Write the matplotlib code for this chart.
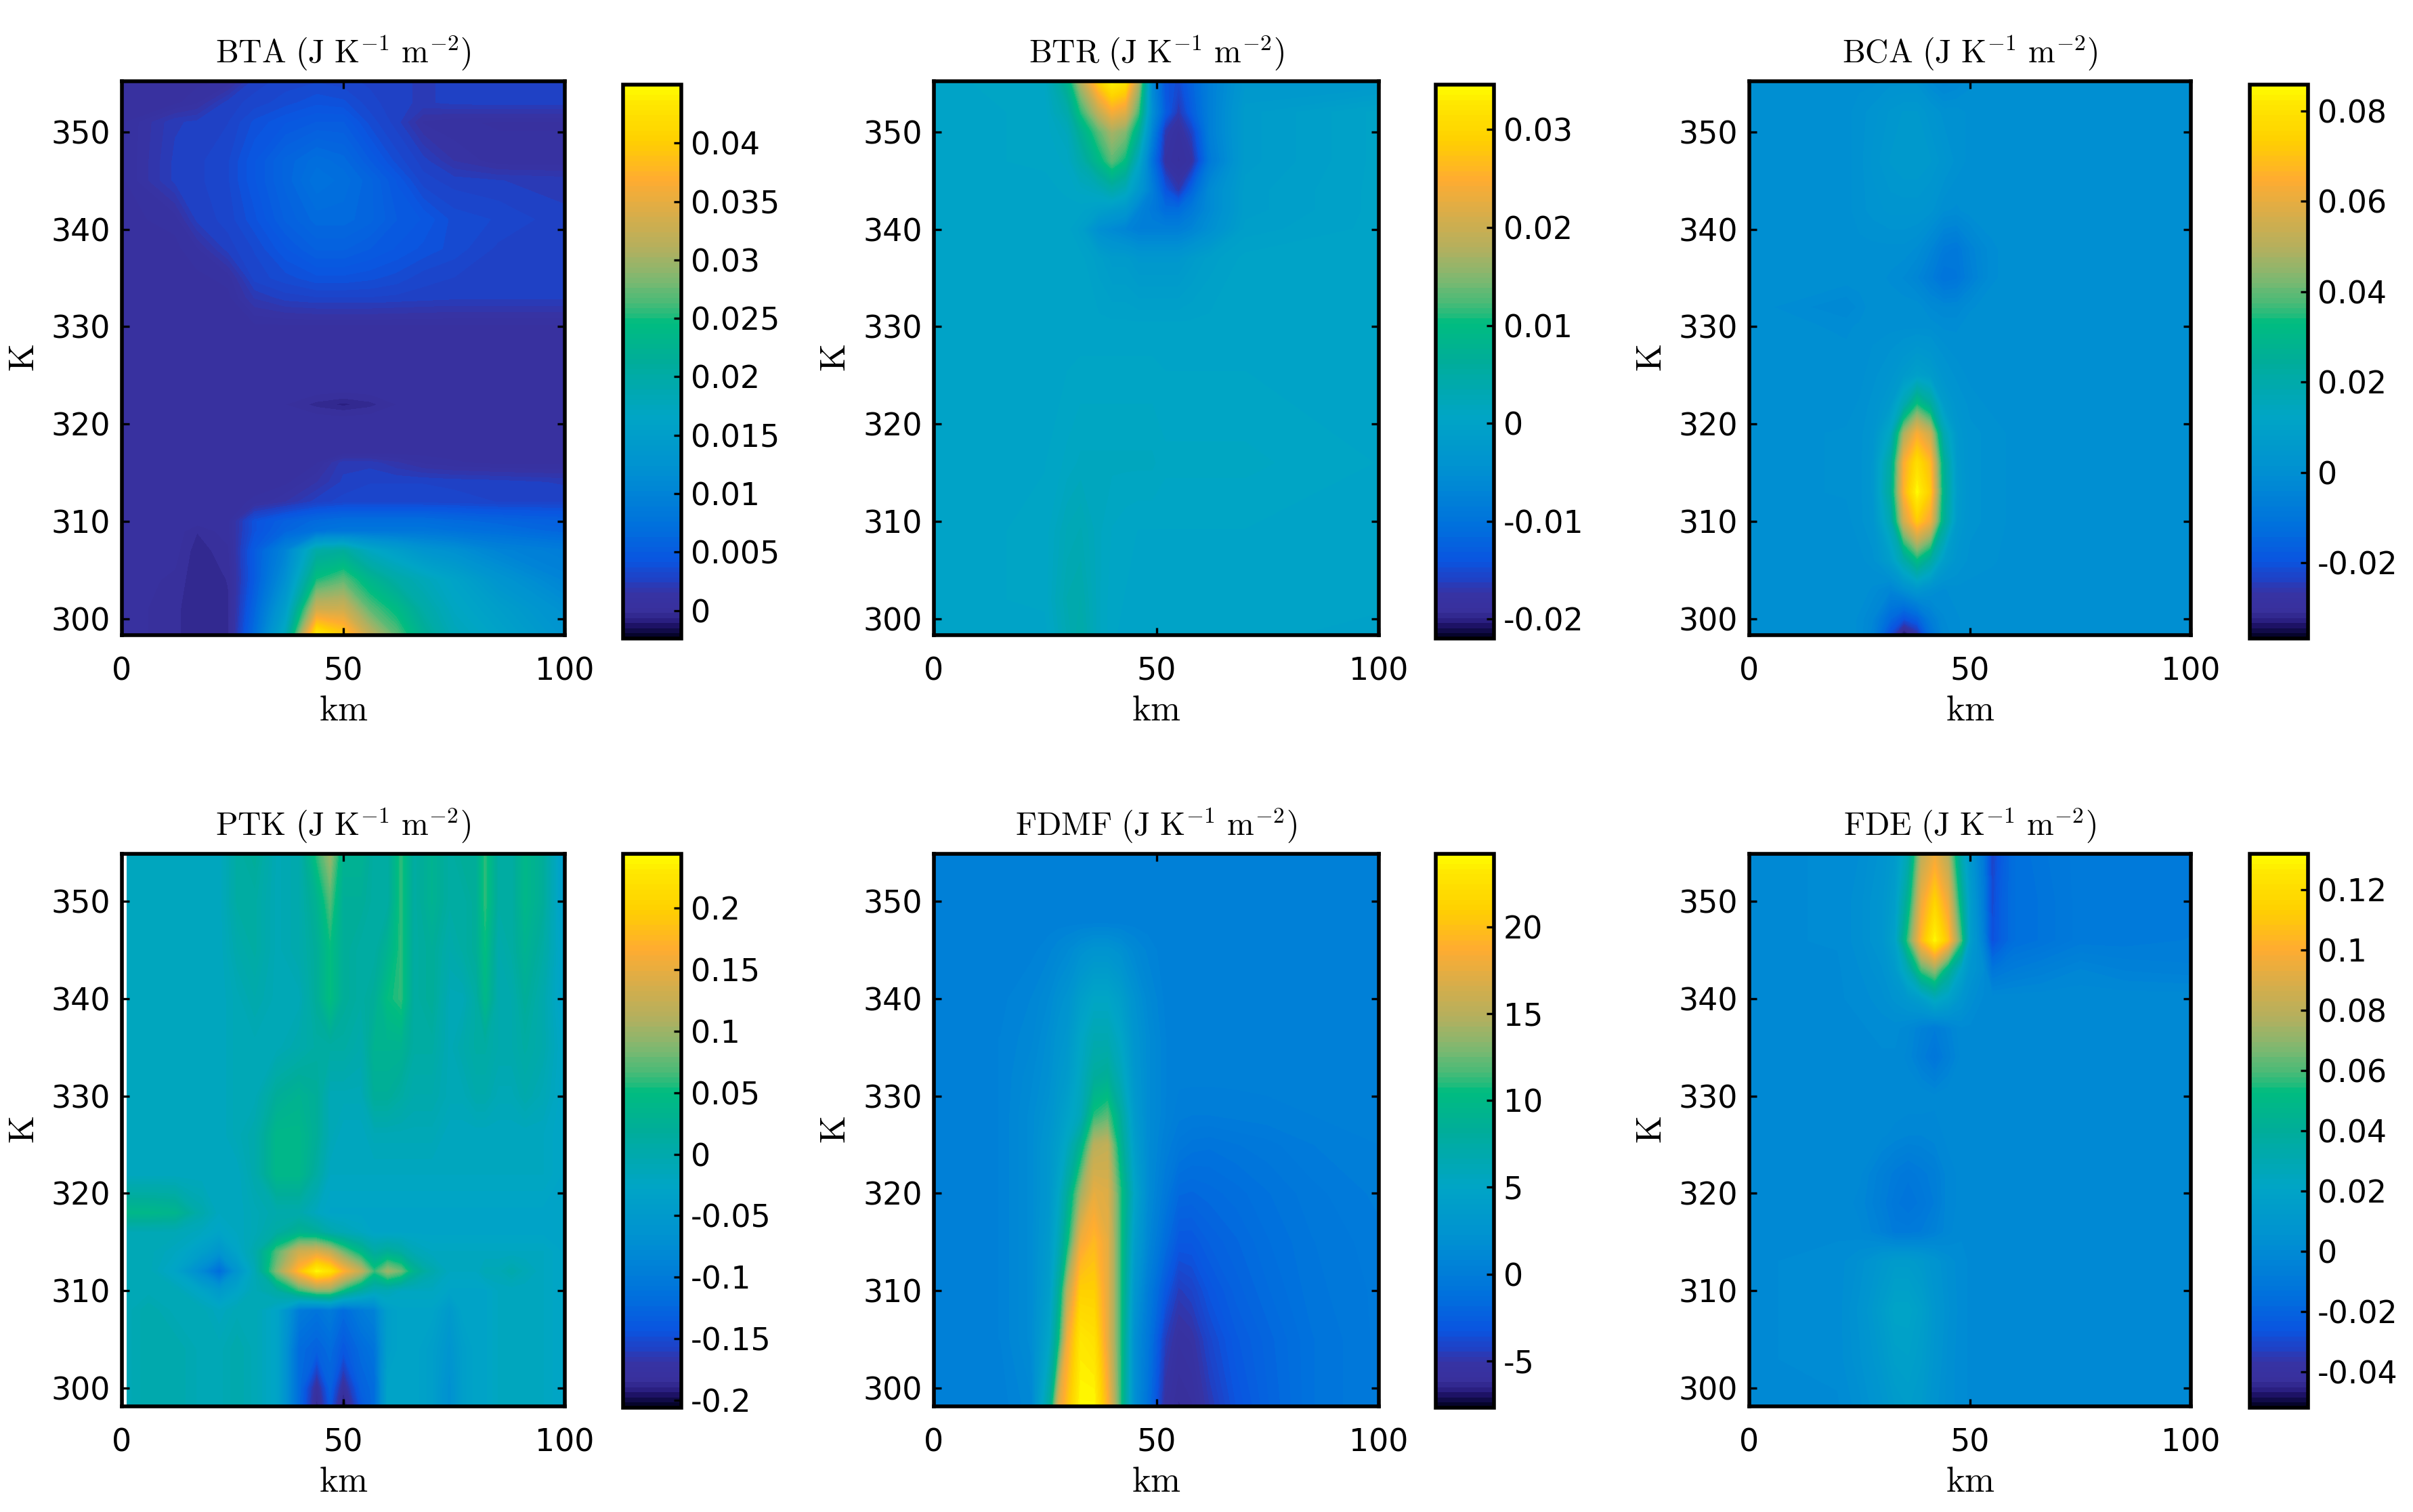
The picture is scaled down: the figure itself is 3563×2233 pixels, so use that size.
import numpy as np
import matplotlib
matplotlib.use("Agg")
import matplotlib.pyplot as plt
from matplotlib.colors import LinearSegmentedColormap

W, H = 3563, 2233
DPI = 200

# ---- BTA (x 1e-3) ----
bta_x = [0, 12, 17, 24, 30, 37, 44, 50, 56, 62, 68, 75, 85, 100]
bta_k = [298.3, 301, 304, 307, 309, 310, 312, 314, 316, 317, 320, 321, 322, 323, 324, 330, 333, 335, 338, 341, 345, 347, 351, 353, 355.2]
bta_z = [
    [.5, -.1, -.6, -.3, 7, 18, 44, 40, 32, 27, 22, 18, 16, 13],
    [.5, -.1, -.6, -.3, 6, 15, 33, 33, 27, 24, 20, 17, 15, 12],
    [.5, .1, -.6, -.2, 5, 12, 25, 27, 23, 20, 18, 16, 13, 10],
    [.5, .4, -.5, .1, 5, 10, 20, 21, 17, 15, 13, 12, 10, 9],
    [.5, .5, -.2, .5, 4, 6, 7.5, 8, 8, 8, 8, 7.5, 7, 6],
    [.5, .5, .5, .5, 4, 5.5, 6.5, 7, 7, 7, 7, 6.5, 6, 5.5],
    [.5, .5, .5, .5, .7, 1.5, 2.6, 3, 3, 3, 3, 3, 2.8, 2.8],
    [.5, .5, .5, .5, .5, .5, 1.5, 2.5, 2.8, 2.8, 2.8, 2.7, 2.6, 2.3],
    [.5, .5, .5, .5, .5, .5, .6, 2.2, 2.2, 1.6, 1, .7, .5, .5],
    [.5, .5, .5, .5, .5, .5, .5, .5, .5, .5, .5, .5, .5, .5],
    [.5, .5, .5, .5, .5, .5, .5, .5, .5, .5, .5, .5, .5, .5],
    [.5, .5, .5, .5, .5, .5, .2, .1, .2, .5, .5, .5, .5, .5],
    [.5, .5, .5, .5, .5, .2, -.4, -.8, -.4, .2, .5, .5, .5, .5],
    [.5, .5, .5, .5, .5, .5, .2, .1, .2, .5, .5, .5, .5, .5],
    [.5, .5, .5, .5, .5, .5, .5, .5, .5, .5, .5, .5, .5, .5],
    [.5, .5, .5, .5, .5, .5, .5, .5, .5, .5, .5, .5, .5, .5],
    [.5, .5, .5, .5, 2, 2.6, 2.8, 2.8, 2.8, 2.7, 2.6, 2.5, 2.5, 2.5],
    [.5, .5, .5, .8, 3, 3.5, 4, 4, 3.8, 3.5, 3, 2.8, 2.6, 2.5],
    [.5, .5, 1, 2.6, 3.3, 4.5, 5.5, 5.5, 5, 4.5, 4, 3.5, 2.7, 2.5],
    [.5, .8, 2.5, 3, 4, 5.5, 6.5, 6.5, 6, 5, 4.5, 3.5, 3.2, 2.5],
    [.5, 2.5, 2.7, 3.2, 4.5, 6, 7.5, 7, 6, 4.5, 3, 2.6, 2.4, 2.2],
    [.5, 2.5, 2.7, 3.2, 4.5, 6, 7, 6.5, 5, 3.5, 2.6, 1.5, .8, .8],
    [.5, 2.3, 2.5, 2.8, 3.8, 4.5, 5, 5, 3.5, 2.6, 1, .7, .6, .6],
    [.5, .5, 1, 2.6, 3, 3.5, 4, 3.8, 3, 2.5, 2.3, 2.5, 2.6, 2.6],
    [.5, .5, .5, .7, 2.6, 3, 3.2, 3, 2.7, 2.5, 2.3, 2.5, 2.6, 2.6],
]

# ---- BTR (x 1e-3) ----
btr_x = [0, 25, 30, 33, 37, 40, 43, 46, 49, 52, 55, 58, 62, 70, 100]
btr_k = [298.3, 302, 309, 316, 330, 337, 340, 342, 344, 347, 350, 352, 355.2]
btr_z = [
    [0, 0, 3, 4.5, 1.5, .5, 0, 0, 0, 0, 0, 0, 0, 0, -.5],
    [0, .5, 3.5, 4, 1.5, .5, .3, 0, 0, 0, 0, 0, 0, 0, 0],
    [0, .5, 2.5, 3, 1.5, .8, .5, .3, .3, .3, .3, .3, .3, .3, 0],
    [0, .3, 1, 1.5, 1.5, 1.5, 1.5, 1.5, 1.5, 1, 1, 1, 1, 1, .3],
    [0, 0, 0, 0, 0, 0, 0, 0, 0, 0, 0, 0, 0, 0, .2],
    [0, 0, 0, 0, -1, -2, -2, -3, -3, -3, -3, -2, -1, 0, 0],
    [0, 0, 0, -1, -5, -6, -7, -8, -8, -8, -8, -7, -5, -1, 0],
    [0, 0, 0, 0, -1, -2, -3, -7, -9, -11, -11, -9, -6, -1.5, 0],
    [0, 0, .5, 1, 2, 4, 2, -3, -8, -14, -17, -12, -6, -1.5, 0],
    [0, .5, 1, 4, 9, 13, 10, 1, -10, -18, -19, -18, -9, -2, 0],
    [0, .5, 2, 7, 13, 17, 15, 7, -7, -17, -18.5, -16, -8, -2, 0],
    [0, .5, 4, 11, 19, 24, 22, 12, -5, -13, -17, -13, -8, -2, 0],
    [0, 1, 8, 18, 29, 34, 32, 18, -6, -14, -15, -12, -8, -3, -3],
]

# ---- BCA (x 1e-3) ----
bca_x = [0, 22, 25, 28, 32, 35, 38, 41, 44, 47, 50, 55, 60, 100]
bca_k = [298.3, 300, 303, 306, 310, 313, 316, 319, 322, 325, 330, 332, 335, 338, 342, 347, 352, 355.2]
bca_z = [
    [0, 0, -1, -5, -22, -36, -28, -12, -3, -1, 0, 0, 0, 0],
    [0, 0, -1, -4, -14, -20, -16, -7, -2, -1, 0, 0, 0, 0],
    [0, 0, 0, -1, -4, 0, 4, 1, -1, 0, 0, 0, 0, 0],
    [0, 0, 0, 1, 8, 20, 32, 22, 8, 3, 1, .5, 0, 0],
    [0, 0, 1, 3, 18, 55, 72, 62, 26, 6, 2, 1, 0, 0],
    [0, .5, 1, 4, 24, 66, 85, 72, 28, 7, 2, 1, 0, 0],
    [0, .5, 1, 4, 22, 64, 78, 68, 26, 6, 2, 1, 0, 0],
    [0, .5, 1, 3, 14, 48, 64, 54, 18, 5, 2, 1, 0, 0],
    [0, 0, .5, 2, 6, 18, 34, 24, 7, 3, 1, 0, 0, 0],
    [0, 0, 0, 1, 3, 6, 9, 7, 3, 1, 0, 0, 0, 0],
    [0, -1, -.5, 0, 0, 0, 0, 0, -1, -1, 0, 0, 0, 0],
    [0, -3, -1.5, 0, 0, 0, 0, -2, -3, -3, -1, 0, 0, 0],
    [0, 0, 0, 0, -1, -2, -4, -7, -11, -10, -6, -1, 0, 0],
    [0, 0, 0, 0, 0, 0, -1, -4, -8, -9, -5, -1, 0, 0],
    [0, 0, 1, 2, 3, 3, 3, 2, -.5, -1, 0, 0, 0, 0],
    [0, 0, 1, 3, 5, 6, 6, 5, 3, 1, 0, 0, 0, 0],
    [0, 0, 1, 2, 4, 5, 5, 3, 1, 1, 0, 0, 0, 0],
    [0, 0, 0, 0, 1, 1, 1, -2, -4, -3, -1, 0, 0, 0],
]

# ---- PTK (x 1e-2) ----
ptk_x = [1.2, 6, 12, 18, 22, 26, 30, 35, 40, 44, 47, 50, 54, 57, 60, 63, 66, 70, 74, 77, 80, 82, 85, 88, 91, 95, 100]
ptk_k = [298.1, 300, 304, 308, 310, 312, 314, 316, 318, 322, 326, 330, 335, 340, 345, 350, 355]
ptk_z = [
    [-1, 0, 0, -1, -1, 0, -1, -3, -12, -19, -14, -20, -14, -12, -3, -3, -3, -4, -7, -4, -3, -3, -2, -2, -2, -2, -3],
    [-1, 0, 0, -1, -1, 0, -1, -3, -12, -18, -13, -18, -13, -12, -3, -3, -3, -4, -7, -4, -3, -3, -2, -2, -2, -2, -3],
    [-1, 0, 0, -1, -1, 0, -1, -3, -12, -13, -12, -14, -12, -11, -4, -3, -3, -4, -6, -4, -3, -3, -2, -2, -2, -2, -3],
    [-1, 0, -1, -1, -2, -1, -1, -3, -10, -11, -10, -12, -10, -9, -4, -3, -3, -3, -5, -3, -3, -3, -2, -2, -2, -2, -3],
    [-1, -1, -1, -3, -5, -3, -1, 1, 6, 9, 9, 5, 1, -1, -1, -2, -2, -2, -3, -3, -3, -3, -2, -2, -2, -2, -3],
    [-1, -1, -3, -8, -12, -6, -1, 9, 18, 24, 22, 17, 12, 6, 10, 8, 3, 0, -2, -2, -2, -1, -1, 0, -1, -2, -3],
    [-1, -1, -2, -4, -6, -3, 0, 7, 13, 14, 12, 8, 4, 1, 2, 1, -1, -2, -2, -2, -2, -2, -2, -2, -2, -2, -3],
    [-1, -1, -1, -2, -3, -2, -1, 1, 3, 2, 0, -1, -2, -3, -3, -3, -3, -3, -3, -3, -3, -3, -3, -3, -3, -3, -3],
    [4, 4, 3.5, 0, -2, -2, -1, 0, 0, -2, -3, -3, -3, -3, -3, -3, -3, -3, -3, -3, -3, -3, -3, -3, -3, -3, -3],
    [-2, -2, -2, -2, -2, -2, 0, 4, 4, 1, -2, -2, -2, -2, -2, -2, -2, -2, -2, -2, -2, -2, -2, -2, -2, -2, -3],
    [-2, -2, -2, -2, -2, -1, 0, 4, 4, 2, -1, -2, -2, -1, -1, -1, -1, -1, -2, -2, -2, -2, -2, -2, -2, -2, -3],
    [-2, -2, -2, -2, -2, -1, -1, 2, 3, 2, -1, -1, -1, 2, 2, 1, 0, 0, -1, -1, 0, 0, -1, -1, 0, -1, -3],
    [-2, -2, -2, -2, -2, -1, -1, -1, 0, 1, 1, 1, 0, 3, 3, 3, 1, 1, -1, 0, 1, 1, 0, 0, 1, 0, -3],
    [-2, -2, -2, -2, -2, -1, 0, -1, -1, 2, 5, 2, 1, 2, 5, 6, 1, 2, -1, -1, 1, 4, 0, 0, 2, 0, -4],
    [-2, -2, -2, -2, -2, 0, 1, -1, 0, 2, 5, 2, 1, 1, 3, 6, 1, 2, 0, 1, 2, 5, 0, 1, 3, 1, -4],
    [-2, -2, -2, -2, -2, 1, 1, -1, 0, 3, 7, 2, 2, 1, 1, 6, 1, 3, 1, 1, 2, 6, 1, 1, 4, 2, -5],
    [-2, -2, -2, -2, -2, 1, 2, -1, 0, 6, 10, 3, 3, 1, 1, 6, 1, 3, 1, 2, 2, 6, 1, 1, 4, 2, -5],
]

# ---- FDMF ----
fdmf_x = [0, 15, 22, 26, 28, 30, 33, 36, 39, 42, 45, 48, 52, 55, 58, 62, 68, 75, 85, 100]
fdmf_k = [298.1, 305, 310, 315, 320, 325, 328, 332, 336, 340, 345, 348, 355]
fdmf_z = [
    [.3, .3, 1, 8, 17, 20, 24, 24, 19, 11, 2, -1, -5.5, -6.3, -6, -4.8, -3.3, -2.2, -1, -.3],
    [.3, .5, 1.5, 5, 10, 18, 23, 22.5, 17.5, 11, 2, -.5, -4.5, -5.6, -5.3, -4, -2.8, -2, -1, -.3],
    [.3, .5, 1.5, 4, 8, 15, 21, 21, 17.5, 11, 3, 0, -3, -4.6, -4.2, -3.2, -2.3, -1.6, -.8, -.3],
    [.3, .5, 1.5, 3.5, 6, 10, 18, 19.5, 17.5, 11, 4, 1, -1.5, -3, -3, -2.4, -1.9, -1.3, -.7, -.2],
    [.3, .5, 1.5, 3, 5, 8, 14, 17.5, 17, 11, 5, 1.5, -.5, -1.8, -1.9, -1.7, -1.4, -1, -.5, 0],
    [.3, .5, 1.5, 3, 4, 5.5, 9, 15, 15.5, 9, 4, 1.5, .2, -.5, -.8, -.9, -.7, -.5, -.1, .2],
    [.3, .5, 1.5, 2.5, 3.5, 4.5, 6, 11, 12, 8, 3.5, 1.5, .5, 0, -.1, -.1, 0, .1, .2, .3],
    [.3, .5, 1.3, 2, 3, 3.5, 5.5, 8, 8.5, 6, 3, 1.5, .5, .3, .3, .3, .3, .3, .3, .3],
    [.3, .5, 1, 1.8, 2.5, 3, 5, 6.5, 6.5, 5, 2.7, 1.5, .5, .3, .3, .3, .3, .3, .3, .3],
    [.3, .4, .8, 1.4, 2, 2.4, 4, 5, 5, 4, 2.3, 1.2, .4, .3, .3, .3, .3, .3, .3, .3],
    [.3, .3, .4, .7, 1, 1.3, 2, 2.5, 2.5, 2, 1.2, .7, .3, .3, .3, .3, .3, .3, .3, .3],
    [.3, .3, .3, .3, .3, .3, .3, .3, .3, .3, .3, .3, .3, .3, .3, .3, .3, .3, .3, .3],
    [.3, .3, .3, .3, .3, .3, .3, .3, .3, .3, .3, .3, .3, .3, .3, .3, .3, .3, .3, .3],
]

# ---- FDE (x 1e-3) ----
fde_x = [0, 20, 25, 30, 33, 36, 39, 42, 45, 48, 50, 53, 55, 57, 60, 66, 75, 85, 100]
fde_k = [298.1, 303, 308, 313, 316, 319, 322, 326, 330, 334, 337, 340, 343, 346, 350, 355]
fde_z = [
    [0, 0, 3, 8, 12, 14, 12, 6, 3, 1, 0, 0, 0, 0, 0, 0, 0, 0, 0],
    [0, 1, 5, 11, 16, 17, 14, 8, 3, 1, 0, 0, 0, 0, 0, 0, 0, 0, 0],
    [0, 1, 6, 14, 20, 20, 16, 9, 4, 1, 0, 0, 0, 0, 0, 0, 0, 0, 0],
    [0, 1, 4, 10, 13, 13, 11, 7, 3, 1, 0, 0, 0, 0, 0, 0, 0, 0, 0],
    [0, 0, -1, -5, -9, -9, -8, -5, -2, 0, 0, 0, 0, 0, 0, 0, 0, 0, 0],
    [0, 0, -2, -7, -11, -13, -11, -8, -2, -1, 0, 0, 0, 0, 0, 0, 0, 0, 0],
    [0, 0, -1, -6, -9, -11, -9, -7, -2, -1, 0, 0, 0, 0, 0, 0, 0, 0, 0],
    [0, 0, 0, -1, -2, -3, -3, -2, -1, 0, 0, 0, 0, 0, 0, 0, 0, 0, 0],
    [0, 0, 0, 0, 0, 0, 0, -1, 0, 0, 0, 0, 0, 0, 0, 0, 0, 0, 0],
    [0, 0, 0, 0, 0, -2, -7, -12, -6, -1, 0, 0, 0, 0, 0, 0, 0, 0, 0],
    [0, 0, 0, 1, 1, -1, -5, -8, -4, 0, 0, 0, 0, 0, 0, 0, 0, 0, 0],
    [0, 0, 1, 3, 6, 10, 15, 25, 18, 8, 3, 0, 0, 0, 0, 0, 0, 0, 0],
    [0, 0, 2, 5, 12, 30, 60, 72, 45, 20, 8, 2, -12, -10, -8, -6, -3, -5, -6],
    [0, .5, 3, 8, 18, 60, 105, 130, 108, 60, 15, -5, -28, -22, -15, -13, -9, -9, -8],
    [0, .5, 3, 8, 15, 45, 95, 115, 95, 45, 14, -8, -30, -22, -15, -13, -9, -9, -9],
    [0, .5, 2, 6, 12, 30, 80, 95, 78, 30, 10, -10, -32, -24, -15, -12, -9, -9, -9],
]

scale_bta, scale_btr, scale_bca, scale_ptk, scale_fdmf, scale_fde = 1e-3, 1e-3, 1e-3, 1e-2, 1, 1e-3

titles = ["BTA", "BTR", "BCA", "PTK", "FDMF", "FDE"]
clims = [(-0.0024, 0.0450), (-0.0220, 0.0346), (-0.0367, 0.0858),
         (-0.206, 0.244), (-7.7, 24.2), (-0.052, 0.132)]
cticks = [
    ["0", "0.005", "0.01", "0.015", "0.02", "0.025", "0.03", "0.035", "0.04"],
    ["-0.02", "-0.01", "0", "0.01", "0.02", "0.03"],
    ["-0.02", "0", "0.02", "0.04", "0.06", "0.08"],
    ["-0.2", "-0.15", "-0.1", "-0.05", "0", "0.05", "0.1", "0.15", "0.2"],
    ["-5", "0", "5", "10", "15", "20"],
    ["-0.04", "-0.02", "0", "0.02", "0.04", "0.06", "0.08", "0.1", "0.12"],
]
xticks = [0, 50, 100]
kticks = [300, 310, 320, 330, 340, 350]

cmap = LinearSegmentedColormap.from_list("ref", [
    (0.00, "#00001c"), (0.022, "#20146e"), (0.045, "#38309c"), (0.08, "#3733a4"),
    (0.105, "#2040c4"), (0.14, "#0a55e0"), (0.20, "#0070dd"), (0.30, "#0090d2"), (0.40, "#00a5c5"),
    (0.50, "#00ad9a"), (0.57, "#00bc80"), (0.60, "#40bb78"), (0.65, "#80b870"),
    (0.70, "#b0b060"), (0.78, "#e0ad45"), (0.83, "#ffac30"), (0.90, "#ffd000"),
    (0.97, "#ffe800"), (1.00, "#ffff00")], N=256)

plt.rcParams["mathtext.fontset"] = "cm"
plt.rcParams["font.family"] = "DejaVu Sans"

fig = plt.figure(figsize=(W / DPI, H / DPI), dpi=DPI)


def box(x0, x1, y0, y1):
    return [x0 / W, 1 - y1 / H, (x1 - x0) / W, (y1 - y0) / H]


col_x = [(180, 834, 920, 1006), (1379, 2036, 2120, 2206), (2583, 3235, 3322, 3408)]
row_y = [(120, 938, 125, 943), (1261, 2077, 1261, 2079)]
row_ylim = [(298.3, 355.2), (298.1, 354.9)]

fields = [(bta_x, bta_k, bta_z, scale_bta), (btr_x, btr_k, btr_z, scale_btr),
          (bca_x, bca_k, bca_z, scale_bca), (ptk_x, ptk_k, ptk_z, scale_ptk),
          (fdmf_x, fdmf_k, fdmf_z, scale_fdmf), (fde_x, fde_k, fde_z, scale_fde)]

FS = 16.5
for i, (x, k, z, s) in enumerate(fields):
    r, c = i // 3, i % 3
    ax0, ax1, cx0, cx1 = col_x[c]
    ay0, ay1, cy0, cy1 = row_y[r]
    ax = fig.add_axes(box(ax0, ax1, ay0, ay1))
    vmin, vmax = clims[i]
    levels = np.linspace(vmin, vmax, 110)
    cf = ax.contourf(x, k, np.clip(np.array(z, float) * s, vmin, vmax), levels=levels,
                     cmap=cmap, vmin=vmin, vmax=vmax)
    ax.set_xlim(0, 100)
    ax.set_ylim(*row_ylim[r])
    ax.set_xticks(xticks)
    ax.set_yticks(kticks)
    ax.tick_params(axis="x", direction="in", length=4, width=1.2, top=True, labelsize=FS, pad=11.5)
    ax.tick_params(axis="y", direction="in", length=4, width=1.2, right=True, labelsize=FS, pad=6)
    for sp in ax.spines.values():
        sp.set_linewidth(2.0)
    ax.set_title(r"$\mathrm{%s\ (J\ K^{-1}\ m^{-2})}$" % titles[i], fontsize=17.2, pad=10)
    ax.set_xlabel(r"$\mathrm{km}$", fontsize=19, va="center")
    ax.xaxis.set_label_coords(0.5, -0.136)
    ax.set_ylabel(r"$\mathrm{K}$", fontsize=19, va="center")
    ax.yaxis.set_label_coords(-0.222, 0.5)

    cax = fig.add_axes(box(cx0, cx1, cy0, cy1))
    cb = fig.colorbar(cf, cax=cax)
    cb.set_ticks([float(t) for t in cticks[i]])
    cb.set_ticklabels(cticks[i])
    cax.tick_params(direction="in", length=4, width=1.2, labelsize=FS, pad=5)
    cb.outline.set_linewidth(2.0)

fig.savefig("out.png", dpi=DPI)
